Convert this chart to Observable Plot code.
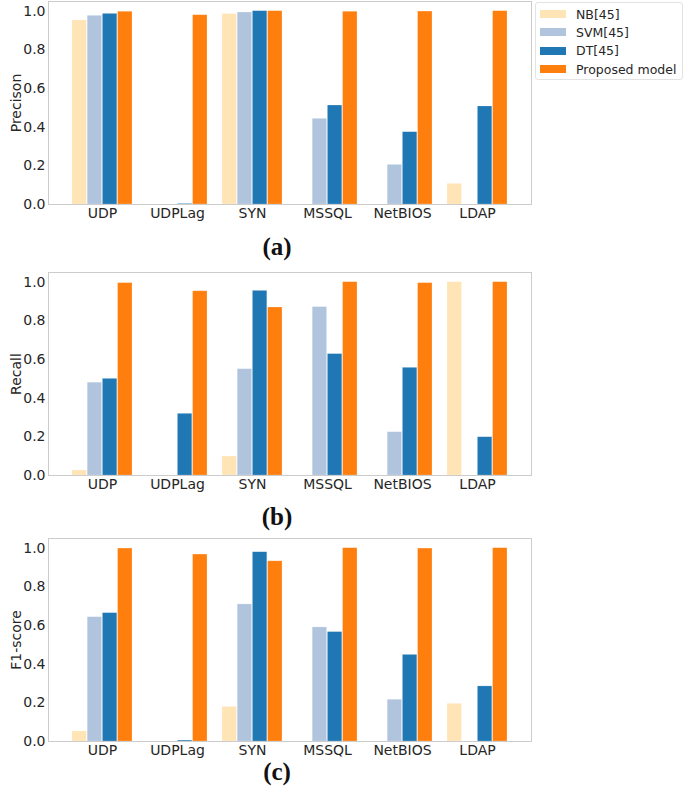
<!DOCTYPE html>
<html>
<head>
<meta charset="utf-8">
<script src="https://cdn.jsdelivr.net/npm/d3@7"></script>
<script src="https://cdn.jsdelivr.net/npm/@observablehq/plot@0.6"></script>
<style>
  html, body { margin: 0; padding: 0; background: #fff; }
  #root { position: relative; width: 685px; height: 788px; overflow: hidden; font-family: "DejaVu Sans", sans-serif; }
  .panel { position: absolute; left: 0; }
  .cap { position: absolute; width: 80px; text-align: center; font-family: "Liberation Serif", "Times New Roman", serif; font-weight: bold; font-size: 25px; line-height: 25px; color: #111; }
  #legend { position: absolute; left: 535px; top: 2px; width: 148px; height: 78px; border: 1px solid #e3e3e3; border-radius: 3px; box-sizing: border-box; font-size: 12.5px; color: #262626; }
  .row { position: absolute; left: 4px; height: 18px; display: flex; align-items: center; }
  .sw { width: 26px; height: 8px; margin-right: 10px; }
</style>
</head>
<body>
<div id="root"></div>
<script>
const categories = ["UDP", "UDPLag", "SYN", "MSSQL", "NetBIOS", "LDAP"];
const seriesNames = ["NB[45]", "SVM[45]", "DT[45]", "Proposed model"];
const seriesColors = ["#ffe4b5", "#b0c4de", "#1f77b4", "#ff7f0e"];
const yTicks = [0, 0.2, 0.4, 0.6, 0.8, 1.0];

// Precision (a)
const precisionNB   = [0.952, 0, 0.985, 0, 0, 0.107];
const precisionSVM  = [0.976, 0, 0.993, 0.443, 0.205, 0];
const precisionDT   = [0.986, 0.003, 1.0, 0.512, 0.374, 0.507];
const precisionProp = [0.997, 0.979, 1.0, 0.997, 0.998, 1.0];
// Recall (b)
const recallNB   = [0.026, 0, 0.098, 0, 0, 1.0];
const recallSVM  = [0.480, 0, 0.550, 0.871, 0.224, 0];
const recallDT   = [0.500, 0.319, 0.955, 0.628, 0.557, 0.198];
const recallProp = [0.995, 0.953, 0.869, 1.0, 0.995, 1.0];
// F1-score (c)
const f1NB   = [0.052, 0, 0.179, 0, 0, 0.195];
const f1SVM  = [0.643, 0, 0.709, 0.590, 0.216, 0];
const f1DT   = [0.664, 0.005, 0.979, 0.566, 0.448, 0.285];
const f1Prop = [0.998, 0.967, 0.932, 1.0, 0.998, 1.0];

const panels = [
  {label: "Precison", caption: "(a)", series: [precisionNB, precisionSVM, precisionDT, precisionProp], top: 0, capTop: 234},
  {label: "Recall", caption: "(b)", series: [recallNB, recallSVM, recallDT, recallProp], top: 271, capTop: 504},
  {label: "F1-score", caption: "(c)", series: [f1NB, f1SVM, f1DT, f1Prop], top: 537, capTop: 759}
];

const W = 535, ML = 48, MR = 4, PI = 0.2, PO = 0.28;
const step = (W - ML - MR) / (categories.length - PI + 2 * PO);
const bw = step * (1 - PI);
const barW = bw / seriesNames.length;

const root = document.getElementById("root");

for (const p of panels) {
  const bars = p.series.map((vals, i) => Plot.barY(
    categories.map((c, j) => ({category: c, value: vals[j]})),
    {x: "category", y: "value", fill: seriesColors[i],
     insetLeft: barW * i, insetRight: barW * (seriesNames.length - 1 - i),
     stroke: "#ffffff", strokeOpacity: 0.35, strokeWidth: 0.6}
  ));
  const chart = Plot.plot({
    width: W, height: 230,
    marginLeft: ML, marginRight: MR, marginTop: 1, marginBottom: 26,
    style: {fontFamily: "DejaVu Sans", fontSize: "14px", color: "#262626", background: "transparent", overflow: "visible"},
    x: {domain: categories, paddingInner: PI, paddingOuter: PO, label: null},
    y: {domain: [0, 1.05]},
    marks: [
      ...bars,
      Plot.frame({stroke: "#cccccc"}),
      Plot.axisX({tickSize: 0, tickPadding: 4, label: null}),
      Plot.axisY({ticks: yTicks, tickFormat: d3.format(".1f"), tickSize: 0, tickPadding: 3,
                  label: p.label, labelAnchor: "center", labelOffset: 37, labelArrow: "none"})
    ]
  });
  chart.classList.add("panel");
  chart.style.top = p.top + "px";
  root.appendChild(chart);

  const cap = document.createElement("div");
  cap.className = "cap";
  cap.textContent = p.caption;
  cap.style.left = (277 - 40) + "px";
  cap.style.top = p.capTop + "px";
  root.appendChild(cap);
}

const legend = document.createElement("div");
legend.id = "legend";
seriesNames.forEach((name, i) => {
  const row = document.createElement("div");
  row.className = "row";
  row.style.top = (2 + i * 18.4) + "px";
  const sw = document.createElement("span");
  sw.className = "sw";
  sw.style.background = seriesColors[i];
  const t = document.createElement("span");
  t.textContent = name;
  row.appendChild(sw);
  row.appendChild(t);
  legend.appendChild(row);
});
root.appendChild(legend);
</script>
</body>
</html>
